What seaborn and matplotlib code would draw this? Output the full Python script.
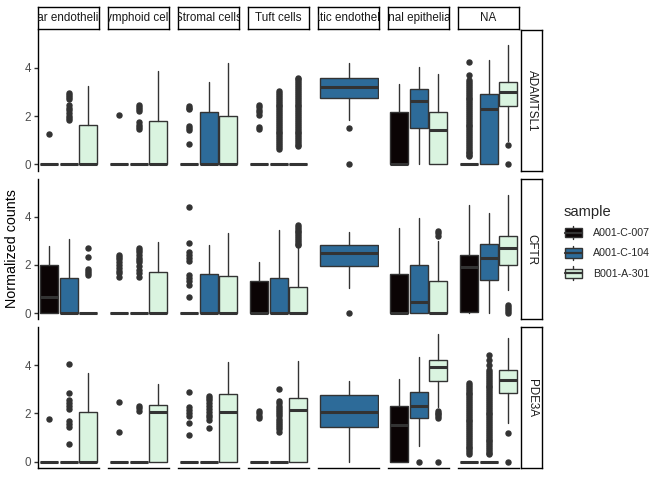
import matplotlib
matplotlib.use("Agg")
import matplotlib.pyplot as plt
import seaborn as sns
from matplotlib.patches import Patch, Rectangle
from matplotlib.lines import Line2D
from matplotlib.legend_handler import HandlerBase

genes = ["ADAMTSL1", "CFTR", "PDE3A"]
cell_types = ["Vascular endothelial cells", "Lymphoid cells", "Stromal cells", "Tuft cells",
              "Lymphatic endothelial cells", "Intestinal epithelial cells", "NA"]
samples = ["A001-C-007", "A001-C-104", "B001-A-301"]
palette = ["#0B0405", "#2D6B99", "#DAF4E0"]

# box stats per cell type, one entry per sample: (lower whisker, q1, median, q3, upper whisker)
# None = sample has no cells of that type
flat = (0, 0, 0, 0, 0)
stats_adamtsl1 = [
    [flat, flat, (0, 0, 0, 1.62, 3.26)],
    [flat, flat, (0, 0, 0, 1.78, 3.87)],
    [flat, (0, 0, 0, 2.19, 3.42), (0, 0, 0, 2.01, 4.22)],
    [flat, flat, flat],
    [None, (1.85, 2.77, 3.22, 3.56, 4.2), None],
    [(0, 0, 0, 2.19, 3.35), (0, 1.49, 2.63, 3.11, 4.04), (0, 0, 1.42, 2.18, 3.76)],
    [flat, (0, 0, 2.29, 2.92, 4.31), (0.95, 2.4, 3.01, 3.42, 4.96)],
]
stats_cftr = [
    [(0, 0, 0.65, 2.0, 2.78), (0, 0, 0, 1.45, 3.06), flat],
    [flat, flat, (0, 0, 0, 1.68, 2.96)],
    [flat, (0, 0, 0, 1.61, 2.81), (0, 0, 0, 1.54, 3.3)],
    [(0, 0, 0, 1.33, 2.1), (0, 0, 0, 1.45, 3.44), (0, 0, 0, 1.09, 2.75)],
    [None, (1.05, 1.93, 2.48, 2.8, 3.36), None],
    [(0, 0, 0, 1.62, 3.52), (0, 0, 0.47, 2.0, 3.93), (0, 0, 0, 1.33, 3.0)],
    [(0, 0.05, 1.91, 2.41, 4.47), (0, 1.38, 2.28, 2.86, 4.14), (0.96, 2.0, 2.7, 3.2, 4.89)],
]
stats_pde3a = [
    [flat, flat, (0, 0, 0, 2.08, 3.66)],
    [flat, flat, (0, 0, 2.05, 2.34, 3.24)],
    [flat, flat, (0, 0, 2.05, 2.79, 4.15)],
    [flat, flat, (0, 0, 2.14, 2.65, 4.17)],
    [None, (0, 1.45, 2.07, 2.76, 3.34), None],
    [(0, 0, 1.54, 2.3, 3.41), (0.65, 1.81, 2.33, 2.88, 4.35), (2.25, 3.34, 3.92, 4.21, 5.31)],
    [flat, flat, (1.61, 2.83, 3.37, 3.79, 5.13)],
]

# outliers per cell type and sample
out_adamtsl1 = [
    [[1.26], [2.95, 2.88, 2.8, 2.72, 2.45, 2.35, 2.25, 2.12, 2.02, 1.92, 1.82], []],
    [[2.03], [2.46, 2.38, 2.3, 2.2, 1.75, 1.65, 1.55, 1.47], []],
    [[2.42, 2.35, 2.28, 1.58, 1.5, 1.42, 0.86], [], []],
    [[2.46, 2.36, 2.26, 2.16, 2.06, 1.55, 1.47],
     [3.05, 2.95, 2.88, 2.8, 2.72, 2.64, 2.56, 2.48, 2.4, 2.32, 2.24, 2.16, 2.08, 2.0, 1.92, 1.84,
      1.76, 1.68, 1.6, 1.52, 1.44, 1.36, 1.28, 1.2, 1.12, 1.04, 0.96, 0.88, 0.8, 0.72, 0.62],
     [3.6, 3.52, 3.44, 3.36, 3.28, 3.2, 3.12, 3.04, 2.96, 2.88, 2.8, 2.72, 2.64, 2.56, 2.48, 2.4,
      2.32, 2.24, 2.16, 2.08, 2.0, 1.92, 1.84, 1.76, 1.68, 1.6, 1.52, 1.44, 1.36, 1.28, 1.2, 1.12,
      1.04, 0.96, 0.88, 0.8, 0.75]],
    [[], [1.49, 0.0], []],
    [[], [], []],
    [[4.24, 3.7, 3.49, 3.41, 3.33, 3.25, 3.17, 3.09, 3.01, 2.93, 2.85, 2.77, 2.69, 2.61, 2.53, 2.45,
      2.37, 2.29, 2.21, 2.13, 2.05, 1.97, 1.89, 1.81, 1.73, 1.65, 1.57, 1.49, 1.41, 1.33, 1.25, 1.17,
      1.09, 1.01, 0.93, 0.85, 0.77, 0.69, 0.61, 0.53, 0.45, 0.37, 0.34], [], [0.8, 0.0]],
]
out_cftr = [
    [[], [], [2.71, 2.34, 1.82, 1.74, 1.66, 1.58]],
    [[2.41, 2.33, 2.25, 2.12, 2.0, 1.88, 1.76, 1.64, 1.51],
     [2.71, 2.62, 2.52, 2.4, 2.3, 2.2, 2.1, 1.95, 1.8, 1.65, 1.51], []],
    [[4.38, 2.9, 2.52, 2.42, 2.3, 2.16, 1.58, 1.45, 1.32, 1.17, 0.67], [], []],
    [[], [], [3.65, 3.58, 3.5, 3.42, 3.34, 3.26, 3.18, 3.1, 3.02, 2.94, 2.86, 2.8]],
    [[], [0.0], []],
    [[], [], [3.4, 3.3, 3.2]],
    [[], [], [0.32, 0.24, 0.16, 0.08, 0.0]],
]
out_pde3a = [
    [[1.79], [4.04, 2.86, 2.54, 2.42, 2.3, 2.2, 1.68, 1.56, 1.45, 0.74], []],
    [[2.47, 1.23], [2.33, 2.22, 2.1], []],
    [[2.88, 2.26, 2.14, 2.02, 1.89, 1.59, 1.09],
     [2.74, 2.64, 2.54, 2.44, 2.3, 2.18, 2.05, 1.95, 1.85, 1.75, 1.39], []],
    [[2.1, 2.0, 1.9, 1.8],
     [3.03, 2.51, 2.42, 2.33, 2.24, 2.15, 2.06, 1.97, 1.88, 1.79, 1.7, 1.61, 1.52, 1.43, 1.34, 1.25], []],
    [[], [], []],
    [[], [0.0], [2.12, 2.04, 1.96, 1.88, 1.8, 0.0]],
    [[3.27, 3.19, 3.11, 3.03, 2.95, 2.87, 2.79, 2.71, 2.63, 2.55, 2.47, 2.39, 2.31, 2.23, 2.15, 2.07,
      1.99, 1.91, 1.83, 1.75, 1.67, 1.59, 1.51, 1.43, 1.35, 1.27, 1.19, 1.11, 1.03, 0.95, 0.87, 0.79,
      0.71, 0.63, 0.55, 0.47, 0.39, 0.3],
     [4.44, 4.23, 4.02, 3.8, 3.72, 3.64, 3.56, 3.48, 3.4, 3.32, 3.24, 3.16, 3.08, 3.0, 2.92, 2.84,
      2.76, 2.68, 2.6, 2.52, 2.44, 2.36, 2.28, 2.2, 2.12, 2.04, 1.96, 1.88, 1.8, 1.72, 1.64, 1.56,
      1.48, 1.4, 1.32, 1.24, 1.16, 1.08, 1.0, 0.92, 0.84, 0.76, 0.68, 0.6, 0.52, 0.44, 0.36, 0.3],
     [1.2, 0.0]],
]

box_stats = {"ADAMTSL1": stats_adamtsl1, "CFTR": stats_cftr, "PDE3A": stats_pde3a}
outliers = {"ADAMTSL1": out_adamtsl1, "CFTR": out_cftr, "PDE3A": out_pde3a}

EDGE = "#333333"
W, H = 672, 480

sns.set_theme(style="white")
plt.rcParams["font.family"] = ["Liberation Sans", "DejaVu Sans"]


def frac(x, y, w, h):
    # pixel box (from top-left) -> figure fraction
    return [x / W, 1 - (y + h) / H, w / W, h / H]


class BoxKey(HandlerBase):
    # ggplot-like boxplot legend key
    def create_artists(self, legend, orig_handle, xdescent, ydescent, width, height, fontsize, trans):
        x0, y0 = -xdescent, -ydescent
        fc = orig_handle.get_facecolor()
        box = Rectangle((x0 + 0.06 * width, y0 + 0.16 * height), 0.88 * width, 0.68 * height,
                        facecolor=fc, edgecolor=EDGE, lw=1, transform=trans)
        med = Line2D([x0 + 0.06 * width, x0 + 0.94 * width], [y0 + 0.5 * height] * 2,
                     color=EDGE, lw=1.6, transform=trans)
        lo = Line2D([x0 + 0.5 * width] * 2, [y0, y0 + 0.16 * height], color=EDGE, lw=1, transform=trans)
        hi = Line2D([x0 + 0.5 * width] * 2, [y0 + 0.84 * height, y0 + height], color=EDGE, lw=1,
                    transform=trans)
        return [lo, hi, box, med]


fig = plt.figure(figsize=(6.72, 4.8), dpi=100)

col_x = [37.7 + 70 * j for j in range(7)]
row_y = [30 + 148.7 * i for i in range(3)]
pw, ph = 61.7, 140.7
total = 0.94

for i, gene in enumerate(genes):
    for j, cell in enumerate(cell_types):
        ax = fig.add_axes(frac(col_x[j], row_y[i], pw, ph))
        st = box_stats[gene][j]
        outs = outliers[gene][j]
        present = [k for k in range(3) if st[k] is not None]
        n = len(present)
        slot = total / n
        for m, k in enumerate(present):
            lo, q1, med, q3, hi = st[k]
            pos = -total / 2 + slot * (m + 0.5)
            wid = slot * 0.93 if n > 1 else total
            ax.bxp([dict(whislo=lo, q1=q1, med=med, q3=q3, whishi=hi, fliers=outs[k])],
                   positions=[pos], widths=[wid], patch_artist=True, showcaps=False,
                   manage_ticks=False,
                   boxprops=dict(facecolor=palette[k], edgecolor=EDGE, linewidth=1),
                   medianprops=dict(color=EDGE, linewidth=2.2, solid_capstyle="butt"),
                   whiskerprops=dict(color=EDGE, linewidth=1),
                   flierprops=dict(marker="o", markerfacecolor=EDGE, markeredgecolor=EDGE,
                                   markersize=3.6, linestyle="none"))
        ax.set_xlim(-0.5, 0.5)
        ax.set_ylim(-0.265, 5.57)
        ax.set_xticks([])
        ax.grid(False)
        for s in ["top", "right"]:
            ax.spines[s].set_visible(False)
        ax.spines["left"].set_visible(j == 0)
        ax.spines["bottom"].set_visible(i == 2)
        for s in ["left", "bottom"]:
            ax.spines[s].set_color("black")
            ax.spines[s].set_linewidth(1.0)
        if j == 0:
            ax.set_yticks([0, 2, 4])
            ax.tick_params(axis="y", length=2.6, width=1, color=EDGE, labelcolor="#4D4D4D",
                           labelsize=8.4, pad=2, left=True)
        else:
            ax.set_yticks([])

        # column strips on top row
        if i == 0:
            sx = fig.add_axes(frac(col_x[j], 7.3, pw, 22))
            sx.set_xticks([])
            sx.set_yticks([])
            for s in sx.spines.values():
                s.set_visible(True)
                s.set_color("black")
                s.set_linewidth(1.0)
            sx.text(0.5, 0.5, cell, ha="center", va="center", fontsize=8.4, color="#1A1A1A",
                    transform=sx.transAxes, clip_on=True)
        # row strips on right
        if j == 6:
            sy = fig.add_axes(frac(521, row_y[i], 21, ph))
            sy.set_xticks([])
            sy.set_yticks([])
            for s in sy.spines.values():
                s.set_visible(True)
                s.set_color("black")
                s.set_linewidth(1.0)
            sy.text(0.5, 0.5, gene, ha="center", va="center", rotation=-90, fontsize=8.4,
                    color="#1A1A1A", transform=sy.transAxes, clip_on=True)

fig.text(12 / W, 1 - 249 / H, "Normalized counts", rotation=90, ha="center", va="center",
         fontsize=10.3, color="black")

handles = [Patch(facecolor=c) for c in palette]
fig.legend(handles, samples, handler_map={h: BoxKey() for h in handles}, title="sample",
           loc="upper left", bbox_to_anchor=(564 / W, 1 - 205 / H), frameon=False,
           fontsize=7.7, title_fontsize=10.6, handlelength=1.75, handleheight=1.6,
           labelspacing=0.62, handletextpad=0.95, borderpad=0, borderaxespad=0,
           alignment="left")

fig.savefig("out.png", dpi=100)
